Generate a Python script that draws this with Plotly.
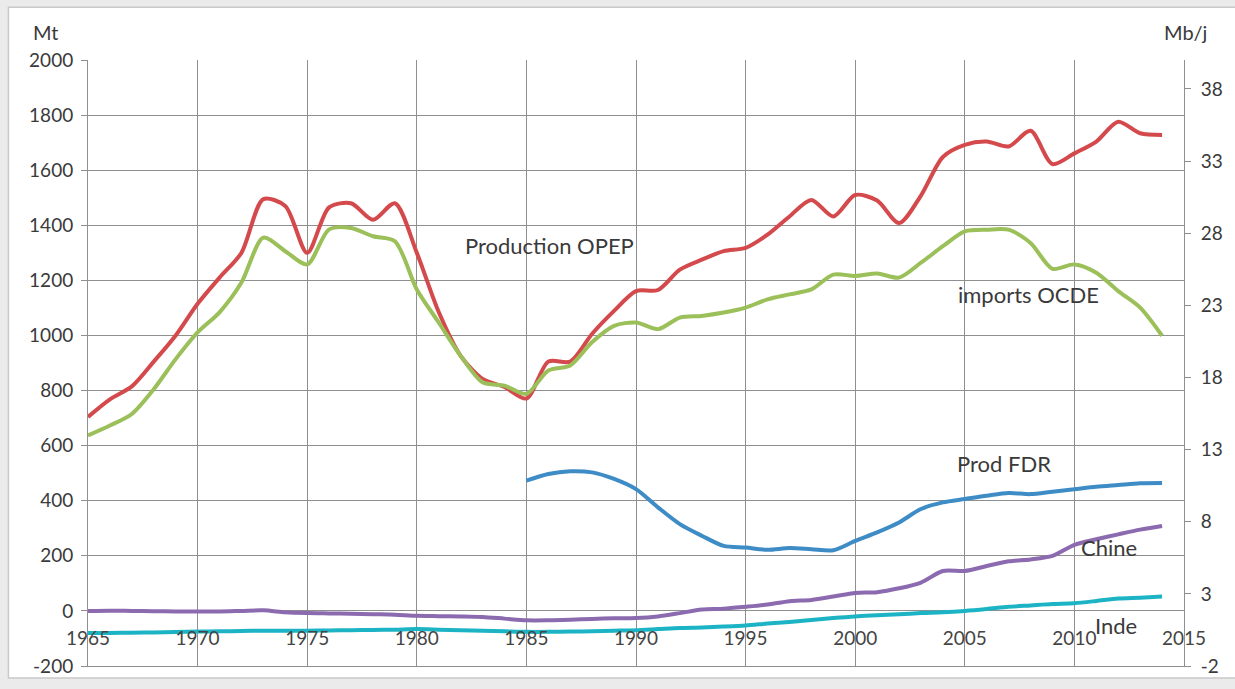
import plotly.graph_objects as go

years = list(range(1965, 2015))
years_fdr = list(range(1985, 2015))

opep = [704, 768, 815, 905, 1000, 1115, 1210, 1300, 1495, 1470,
        1300, 1465, 1480, 1420, 1480, 1300, 1085, 926, 842, 813,
        771, 905, 905, 1006, 1089, 1161, 1165, 1239, 1275, 1306,
        1318, 1366, 1432, 1492, 1432, 1510, 1490, 1408, 1508, 1648,
        1692, 1704, 1686, 1743, 1622, 1661, 1704, 1776, 1734, 1728]

ocde = [637, 673, 715, 805, 914, 1011, 1084, 1192, 1355, 1306,
        1258, 1385, 1390, 1360, 1342, 1167, 1047, 926, 830, 818,
        788, 873, 891, 976, 1035, 1047, 1023, 1065, 1071, 1083,
        1101, 1131, 1149, 1167, 1221, 1216, 1225, 1210, 1264, 1324,
        1378, 1384, 1384, 1336, 1242, 1258, 1228, 1161, 1101, 999]

fdr = [473, 497, 507, 503, 479, 442, 376, 315, 273, 236,
       230, 222, 228, 224, 220, 254, 285, 321, 370, 394,
       406, 418, 428, 424, 433, 442, 451, 457, 463, 464]

chine = [0, 1, 0, -1, -2, -2, -2, 0, 2, -5,
         -8, -9, -10, -12, -14, -18, -19, -20, -22, -28,
         -34, -34, -32, -29, -27, -26, -20, -8, 5, 8,
         15, 23, 35, 40, 52, 65, 68, 82, 103, 145,
         145, 163, 180, 187, 200, 240, 260, 278, 295, 308]

inde = [-80, -80, -79, -78, -77, -75, -74, -73, -72, -72,
        -72, -71, -70, -69, -68, -66, -68, -70, -72, -74,
        -76, -76, -75, -74, -72, -70, -66, -62, -60, -57,
        -53, -46, -40, -33, -26, -20, -16, -12, -8, -5,
        0, 7, 15, 20, 25, 28, 36, 45, 48, 52]

x_ticks = list(range(1965, 2016, 5))
left_ticks = list(range(-200, 2001, 200))
right_ticks = list(range(-2, 39, 5))

labels = [
    ("Production OPEP", 1986.05, 1327),
    ("imports OCDE", 2007.9, 1149),
    ("Prod FDR", 2006.8, 534),
    ("Chine", 2011.6, 230),
    ("Inde", 2011.9, -52),
]

FONT = "Lato, 'Open Sans', sans-serif"
TXT = "#3a3a3a"
GRID = "#8f8f8f"

fig = go.Figure()

series = [
    (years, opep, "#D4494C"),
    (years, ocde, "#9BBF59"),
    (years_fdr, fdr, "#3E8CC6"),
    (years, chine, "#8C6AAF"),
    (years, inde, "#1CB4C5"),
]
for xs, ys, col in series:
    fig.add_trace(go.Scatter(x=xs, y=ys, mode="lines",
                             line=dict(color=col, width=4, shape="spline", smoothing=0.8),
                             showlegend=False, hoverinfo="x+y"))

# invisible trace to carry the right-hand axis
fig.add_trace(go.Scatter(x=[1965], y=[None], yaxis="y2", showlegend=False, hoverinfo="skip"))

for text, xv, yv in labels:
    fig.add_annotation(x=xv, y=yv, text=text, showarrow=False,
                       font=dict(family=FONT, size=22, color=TXT))

fig.add_annotation(x=-0.039, y=1.046, xref="paper", yref="paper", text="Mt",
                   xanchor="center", yanchor="middle",
                   showarrow=False, font=dict(family=FONT, size=20, color=TXT))
fig.add_annotation(x=1.0018, y=1.046, xref="paper", yref="paper", text="Mb/j",
                   xanchor="center", yanchor="middle",
                   showarrow=False, font=dict(family=FONT, size=20, color=TXT))

fig.add_shape(type="rect", xref="paper", yref="paper",
              x0=-0.0726, x1=1.06, y0=-0.0197, y1=1.0872,
              fillcolor="white", line=dict(color="#c9c9c9", width=1.5), layer="below")

fig.update_layout(
    width=1235, height=689,
    margin=dict(l=88, r=45, t=60, b=21),
    paper_bgcolor="#ebebeb",
    plot_bgcolor="white",
    font=dict(family=FONT, size=19, color=TXT),
    xaxis=dict(range=[1965, 2015], tickvals=x_ticks, showgrid=True, gridcolor=GRID,
               gridwidth=1, zeroline=False, showline=True, linecolor=GRID,
               ticks="", ticklabelposition="inside", ticklabelstandoff=18,
               ticklabeloverflow="allow", mirror=False),
    yaxis=dict(range=[-200, 2000], tickvals=left_ticks,
               ticktext=[str(v) for v in left_ticks],
               showgrid=True, gridcolor=GRID,
               gridwidth=1, zeroline=False, showline=True, linecolor=GRID,
               ticks="outside", ticklen=6, tickcolor=GRID, ticklabelstandoff=4),
    yaxis2=dict(range=[-2, 40], tickvals=right_ticks,
                ticktext=[str(v) for v in right_ticks],
                overlaying="y", side="right",
                showgrid=False, zeroline=False, showline=True, linecolor=GRID,
                ticks="outside", ticklen=6, tickcolor=GRID, ticklabelstandoff=6),
)

fig.write_html("out.html", config={"displayModeBar": False},
               post_script="document.body.style.margin='0px';document.body.style.overflow='hidden';")
